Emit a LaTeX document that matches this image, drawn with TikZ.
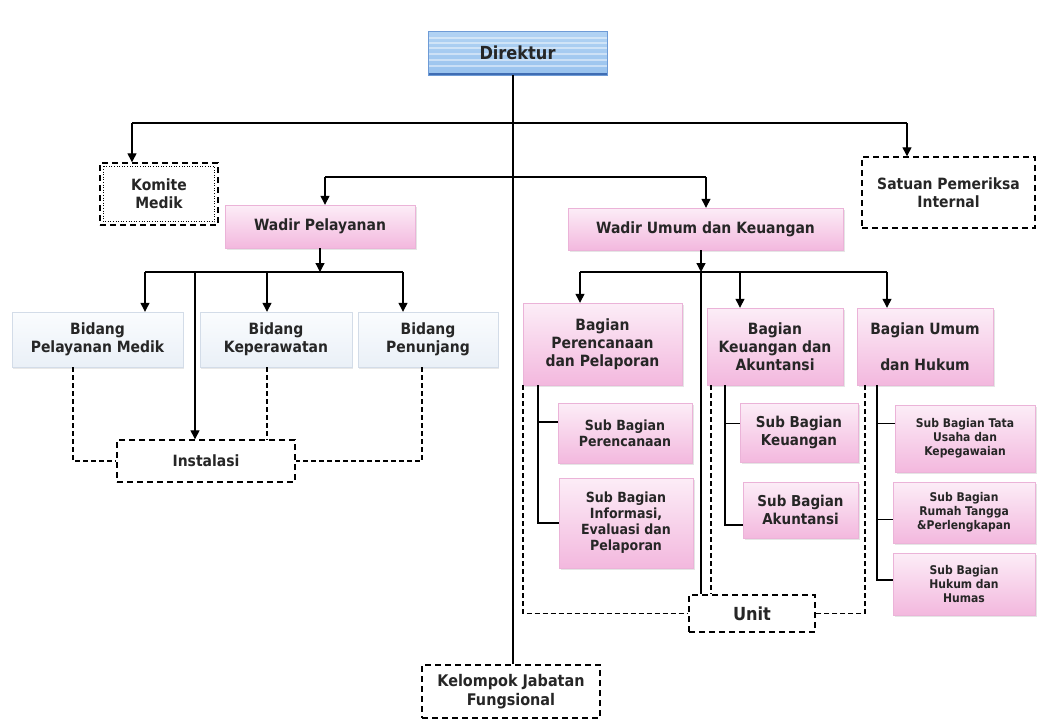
\documentclass[tikz,border=0pt]{standalone}
\usepackage{fontspec}
\setmainfont{DejaVu Sans Condensed}
\usetikzlibrary{arrows.meta,shadows}
\definecolor{pinktop}{HTML}{FCEDF7}
\definecolor{pinkbot}{HTML}{F3B8DE}
\definecolor{pinkline}{HTML}{EBB3D8}
\definecolor{bluetop}{HTML}{FAFCFE}
\definecolor{bluebot}{HTML}{EAF0F7}
\definecolor{blueline}{HTML}{D3DCE8}
\definecolor{dirtop}{HTML}{B2D3F3}
\definecolor{dirbot}{HTML}{98C2EE}
\definecolor{dirline}{HTML}{6E9BD6}
\definecolor{dirdark}{HTML}{3F6DB3}
\tikzset{
  pinkbox/.style={draw=pinkline, top color=pinktop, bottom color=pinkbot, align=center, inner sep=2pt,
    drop shadow={opacity=0.2, shadow xshift=1.5pt, shadow yshift=-1.5pt}},
  bluebox/.style={draw=blueline, top color=bluetop, bottom color=bluebot, align=center, inner sep=2pt,
    drop shadow={opacity=0.18, shadow xshift=1pt, shadow yshift=-1.5pt}},
  dirbox/.style={draw=dirline, top color=dirtop, bottom color=dirbot, align=center,
    font=\fontsize{18}{21}\selectfont\bfseries,
    path picture={
      \foreach \s in {7,12,17,23,29,35}
        \draw [white, opacity=0.45, line width=1.6pt]
          ([yshift=-\s pt]path picture bounding box.north west) -- ([yshift=-\s pt]path picture bounding box.north east);
      \draw [dirdark, line width=4pt] (path picture bounding box.south west) -- (path picture bounding box.south east);
    }},
  dashbox/.style={draw, line width=1.4pt, dash pattern=on 6pt off 4pt, align=center, fill=white},
  arr/.style={-{Triangle[width=9pt,length=9pt]}, line width=1.3pt},
  link/.style={line width=1.3pt},
  dots/.style={line width=1.3pt, dash pattern=on 5pt off 3pt},
  smalltext/.style={font=\fontsize{12}{14}\selectfont\bfseries},
  midtext/.style={font=\fontsize{14}{16}\selectfont\bfseries},
}

\begin{document}
\begin{tikzpicture}[x=1pt, y=-1pt, font=\fontsize{15.5}{18}\selectfont\bfseries, text=black!85]
\useasboundingbox[fill=white] (0,0) rectangle (1038,720);

\node [dirbox, minimum width=179pt, minimum height=44pt] (dir) at (517.5,53) {Direktur};
\node [dashbox, minimum width=118pt, minimum height=62pt] (komite) at (159,194) {Komite\\Medik};
\draw [dotted, line width=0.6pt] ([shift={(4pt,-4pt)}]komite.north west) rectangle ([shift={(-4pt,4pt)}]komite.south east);
\node [dashbox, minimum width=173pt, minimum height=71pt] (spi) at (948.5,192.5) {Satuan Pemeriksa\\Internal};
\node [pinkbox, minimum width=190pt, minimum height=43pt] (wp) at (320,226.5) {Wadir Pelayanan};
\node [pinkbox, minimum width=275pt, minimum height=42pt] (wu) at (705.5,229) {Wadir Umum dan Keuangan};

\node [bluebox, minimum width=171pt, minimum height=55pt] (bpm) at (97.5,339.5) {Bidang\\Pelayanan Medik};
\node [bluebox, minimum width=152pt, minimum height=55pt] (bkp) at (276,339.5) {Bidang\\Keperawatan};
\node [bluebox, minimum width=140pt, minimum height=55pt] (bpn) at (428,339.5) {Bidang\\Penunjang};
\node [dashbox, minimum width=178pt, minimum height=42pt] (inst) at (206,461) {Instalasi};

\node [pinkbox, minimum width=159pt, minimum height=82pt] (bpr) at (602.5,344) {Bagian\\Perencanaan\\dan Pelaporan};
\node [pinkbox, minimum width=136pt, minimum height=77pt] (bku) at (775,346.5) {Bagian\\Keuangan dan\\Akuntansi};
\node [pinkbox, minimum width=136pt, minimum height=77pt] (bum) at (925,346.5) {Bagian Umum\\[18pt]dan Hukum};

\node [pinkbox, midtext, minimum width=134pt, minimum height=60pt] (sbp) at (625,433) {Sub Bagian\\Perencanaan};
\node [pinkbox, midtext, minimum width=134pt, minimum height=90pt] (sbi) at (626,523) {Sub Bagian\\Informasi,\\Evaluasi dan\\Pelaporan};
\node [pinkbox, font=\fontsize{15}{18}\selectfont\bfseries, minimum width=118pt, minimum height=59pt] (sbk) at (799,432.5) {Sub Bagian\\Keuangan};
\node [pinkbox, font=\fontsize{15}{18}\selectfont\bfseries, minimum width=115pt, minimum height=56pt] (sba) at (800.5,510) {Sub Bagian\\Akuntansi};
\node [pinkbox, smalltext, minimum width=140pt, minimum height=67pt] (stu) at (965,438.5) {Sub Bagian Tata\\Usaha dan\\Kepegawaian};
\node [pinkbox, smalltext, minimum width=142pt, minimum height=61pt] (srt) at (964,512.5) {Sub Bagian\\Rumah Tangga\\\&Perlengkapan};
\node [pinkbox, smalltext, minimum width=142pt, minimum height=62pt] (shh) at (964,584) {Sub Bagian\\Hukum dan\\Humas};

\node [dashbox, font=\fontsize{18}{21}\selectfont\bfseries, minimum width=126pt, minimum height=37pt] (unit) at (752,613.5) {Unit};
\node [dashbox, font=\fontsize{16}{19}\selectfont\bfseries, minimum width=178pt, minimum height=53pt] (kjf) at (511,691.5) {Kelompok Jabatan\\Fungsional};

\coordinate (spine) at (513,0);
\coordinate (tl) at (132,123);
\coordinate (tr) at (907,123);
\coordinate (ml) at (325,177);
\coordinate (mr) at (706,177);
\coordinate (pbl) at (145,272);
\coordinate (pbi) at (195,272);
\coordinate (pbk) at (267,272);
\coordinate (pbr) at (403,272);
\coordinate (ubl) at (580,272);
\coordinate (ub) at (701,272);
\coordinate (ubk) at (740,272);
\coordinate (ubr) at (887,272);

\draw [link] (spine |- dir.south) -- (spine |- kjf.north);
\draw [link] (tl) -- (tr);
\draw [arr] (tl) -- (tl |- komite.north);
\draw [arr] (tr) -- (tr |- spi.north);
\draw [link] (ml) -- (mr);
\draw [arr] (ml) -- (ml |- wp.north);
\draw [arr] (mr) -- (mr |- wu.north);

\draw [arr] (wp.south) -- (wp.south |- pbl);
\draw [link] (pbl) -- (pbr);
\draw [arr] (pbl) -- (pbl |- bpm.north);
\draw [arr] (pbk) -- (pbk |- bkp.north);
\draw [arr] (pbr) -- (pbr |- bpn.north);
\draw [arr] (pbi) -- (pbi |- inst.north);
\draw [dots] (73,0 |- bpm.south) |- (inst.west);
\draw [dots] (267,0 |- bkp.south) -- (267,0 |- inst.north);
\draw [dots] (422,0 |- bpn.south) |- (inst.east);

\draw [arr] (ub |- wu.south) -- (ub);
\draw [link] (ubl) -- (ubr);
\draw [arr] (ubl) -- (ubl |- bpr.north);
\draw [arr] (ubk) -- (ubk |- bku.north);
\draw [arr] (ubr) -- (ubr |- bum.north);
\draw [link] (ub) -- (ub |- unit.north);

\draw [link] (538,0 |- bpr.south) |- (sbi.west);
\draw [link] (538,0 |- sbp.west) ++(0,-11) -- ([yshift=11pt]sbp.west);
\draw [link] (725,0 |- bku.south) |- ([yshift=-15pt]sba.west);
\draw [link] (725,0 |- sbk.west) ++(0,-9) -- ([yshift=9pt]sbk.west);
\draw [link] (877,0 |- bum.south) |- ([yshift=4pt]shh.west);
\draw [link] (877,0 |- stu.west) ++(0,-15) -- ([yshift=15pt]stu.west);
\draw [link] (877,0 |- srt.west) ++(0,7) -- ([yshift=-7pt]srt.west);
\draw [dots] (523,0 |- bpr.south) |- (unit.west);
\draw [dots] (711,0 |- bku.south) -- (711,0 |- unit.north);
\draw [dots] (865,0 |- bum.south) |- (unit.east);
\end{tikzpicture}
\end{document}
